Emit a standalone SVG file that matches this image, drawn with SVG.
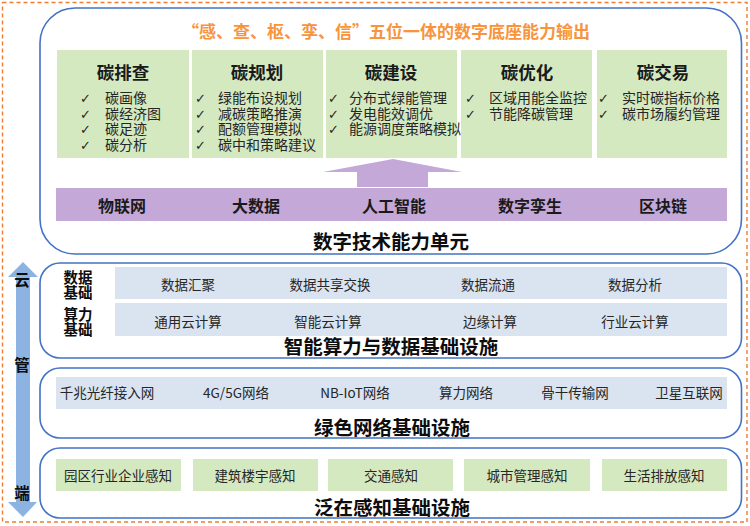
<svg xmlns="http://www.w3.org/2000/svg" width="750" height="526" viewBox="0 0 750 526">
<style>
.panel{fill:#ffffff;stroke:#4472c4;stroke-width:1.6}
.green{fill:#d5e9c0}
.blue{fill:#dae3f0}
.hdr{font-family:"Noto Sans CJK SC",sans-serif;font-weight:700;font-size:17.5px;fill:#1a1a1a;text-anchor:middle}
.item{font-family:"Noto Sans CJK SC",sans-serif;font-size:14px;fill:#262626}
.chk{font-family:"DejaVu Sans",sans-serif;font-size:13px;fill:#262626}
.bar{font-family:"Noto Sans CJK SC",sans-serif;font-weight:700;font-size:16px;fill:#1a1a1a;text-anchor:middle}
.ttl{font-family:"Noto Sans CJK SC",sans-serif;font-weight:700;font-size:19.5px;fill:#0d0d0d;text-anchor:middle}
.cell{font-family:"Noto Sans CJK SC",sans-serif;font-size:13.5px;fill:#262626;text-anchor:middle}
.lbl{font-family:"Noto Sans CJK SC",sans-serif;font-weight:700;font-size:15.5px;fill:#0d0d0d;text-anchor:middle}
.sub{font-family:"Noto Sans CJK SC",sans-serif;font-weight:700;font-size:14.5px;fill:#0d0d0d;text-anchor:middle}
</style>
<rect x="0" y="0" width="750" height="526" fill="#ffffff"/>
<rect id="frame" x="2.5" y="2.5" width="744.5" height="519.5" fill="none" stroke="#ed7d31" stroke-width="1.4" stroke-dasharray="4,3"/>

<g id="axis">
<polygon points="23,262 38,277 30,277 30,502 37,502 23,517 8,502 16,502 16,277 8,277" fill="#8db3e2"/>
<text class="lbl" x="22" y="286">云</text>
<text class="lbl" x="22" y="371">管</text>
<text class="lbl" x="22" y="499">端</text>
</g>

<g id="digital-base">
<rect class="panel" x="40" y="8" width="701.5" height="246" rx="35"/>
<text x="386" y="38" font-family="Noto Sans CJK SC,sans-serif" font-weight="700" font-size="17px" fill="#f7943c" text-anchor="middle">“感、查、枢、孪、信”五位一体的数字底座能力输出</text>
</g>

<g id="connectors">
<polygon points="393,159 462,172 428,172 428,187 357,187 357,172 323,172" fill="#c3a8d8"/>
</g>

<g id="carbon-check">
<rect class="green" x="57" y="50" width="132" height="108"/>
<text class="hdr" x="123" y="79">碳排查</text>
<text class="chk" x="80" y="103">✓</text><text class="item" x="105" y="103">碳画像</text>
<text class="chk" x="80" y="118.5">✓</text><text class="item" x="105" y="118.5">碳经济图</text>
<text class="chk" x="80" y="134">✓</text><text class="item" x="105" y="134">碳足迹</text>
<text class="chk" x="80" y="149.5">✓</text><text class="item" x="105" y="149.5">碳分析</text>
</g>
<g id="carbon-plan">
<rect class="green" x="192" y="50" width="131" height="108"/>
<text class="hdr" x="257" y="79">碳规划</text>
<text class="chk" x="195" y="103">✓</text><text class="item" x="218" y="103">绿能布设规划</text>
<text class="chk" x="195" y="118.5">✓</text><text class="item" x="218" y="118.5">减碳策略推演</text>
<text class="chk" x="195" y="134">✓</text><text class="item" x="218" y="134">配额管理模拟</text>
<text class="chk" x="195" y="149.5">✓</text><text class="item" x="218" y="149.5">碳中和策略建议</text>
</g>
<g id="carbon-build">
<rect class="green" x="326" y="50" width="131" height="108"/>
<text class="hdr" x="391" y="79">碳建设</text>
<text class="chk" x="328" y="103">✓</text><text class="item" x="349" y="103">分布式绿能管理</text>
<text class="chk" x="328" y="118.5">✓</text><text class="item" x="349" y="118.5">发电能效调优</text>
<text class="chk" x="328" y="134">✓</text><text class="item" x="349" y="134">能源调度策略模拟</text>
</g>
<g id="carbon-optimize">
<rect class="green" x="461" y="50" width="131" height="108"/>
<text class="hdr" x="527" y="79">碳优化</text>
<text class="chk" x="465" y="103">✓</text><text class="item" x="489" y="103">区域用能全监控</text>
<text class="chk" x="465" y="118.5">✓</text><text class="item" x="489" y="118.5">节能降碳管理</text>
</g>
<g id="carbon-trade">
<rect class="green" x="597" y="50" width="130" height="108"/>
<text class="hdr" x="663" y="79">碳交易</text>
<text class="chk" x="598" y="103">✓</text><text class="item" x="622" y="103">实时碳指标价格</text>
<text class="chk" x="598" y="118.5">✓</text><text class="item" x="622" y="118.5">碳市场履约管理</text>
</g>

<g id="tech-units">
<rect x="56" y="188" width="671" height="33" fill="#c3a8d8"/>
<text class="bar" x="122" y="212">物联网</text>
<text class="bar" x="256" y="212">大数据</text>
<text class="bar" x="394" y="212">人工智能</text>
<text class="bar" x="530" y="212">数字孪生</text>
<text class="bar" x="663" y="212">区块链</text>
<text class="ttl" x="391" y="249">数字技术能力单元</text>
</g>

<g id="compute-data">
<rect class="panel" x="40" y="263" width="701.5" height="95" rx="20"/>
<text class="sub" x="78" y="283">数据</text>
<text class="sub" x="78" y="298">基础</text>
<text class="sub" x="78" y="320">算力</text>
<text class="sub" x="78" y="335">基础</text>
<rect class="blue" x="115" y="267" width="612" height="32"/>
<rect class="blue" x="115" y="303" width="612" height="33"/>
<text class="cell" x="188" y="290">数据汇聚</text>
<text class="cell" x="330" y="290">数据共享交换</text>
<text class="cell" x="488" y="290">数据流通</text>
<text class="cell" x="635" y="290">数据分析</text>
<text class="cell" x="188" y="327">通用云计算</text>
<text class="cell" x="328" y="327">智能云计算</text>
<text class="cell" x="490" y="327">边缘计算</text>
<text class="cell" x="635" y="327">行业云计算</text>
<text class="ttl" x="391" y="354">智能算力与数据基础设施</text>
</g>

<g id="green-network">
<rect class="panel" x="40" y="368" width="701.5" height="70" rx="20"/>
<rect class="blue" x="56" y="377" width="671" height="32"/>
<text class="cell" x="107" y="398">千兆光纤接入网</text>
<text class="cell" x="236" y="398">4G/5G网络</text>
<text class="cell" x="355" y="398">NB-IoT网络</text>
<text class="cell" x="466" y="398">算力网络</text>
<text class="cell" x="575" y="398">骨干传输网</text>
<text class="cell" x="689" y="398">卫星互联网</text>
<text class="ttl" x="392" y="435">绿色网络基础设施</text>
</g>

<g id="sensing">
<rect class="panel" x="40" y="448" width="701.5" height="70" rx="20"/>
<rect class="green" x="56" y="459" width="125" height="32"/>
<rect class="green" x="193" y="459" width="125" height="32"/>
<rect class="green" x="328" y="459" width="125" height="32"/>
<rect class="green" x="464" y="459" width="126" height="32"/>
<rect class="green" x="602" y="459" width="125" height="32"/>
<text class="cell" x="118" y="481">园区行业企业感知</text>
<text class="cell" x="255" y="481">建筑楼宇感知</text>
<text class="cell" x="391" y="481">交通感知</text>
<text class="cell" x="527" y="481">城市管理感知</text>
<text class="cell" x="664" y="481">生活排放感知</text>
<text class="ttl" x="392" y="515">泛在感知基础设施</text>
</g>
</svg>
